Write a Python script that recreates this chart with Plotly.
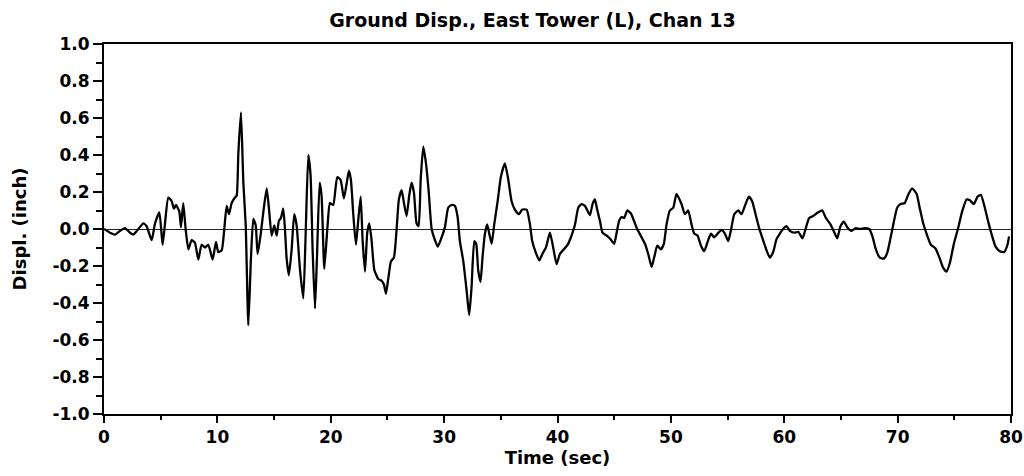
import plotly.graph_objects as go

# Time (sec)
t_sec = [0, 0.53, 0.97, 1.41, 1.85, 2.29, 2.59, 3.03, 3.47, 3.76, 4.2, 4.5, 4.88, 5.17, 5.38,
         5.67, 5.97, 6.17, 6.35, 6.64, 6.79, 6.99, 7.2, 7.44, 7.73, 8.02, 8.32, 8.61, 8.91, 9.2,
         9.58, 9.88, 10.08, 10.38, 10.61, 10.82, 11.02, 11.26, 11.55, 11.7, 11.85, 12.08, 12.29,
         12.5, 12.73, 12.96, 13.17, 13.38, 13.55, 13.84, 14.05, 14.35, 14.55, 14.79, 15.02, 15.23,
         15.43, 15.61, 15.81, 15.96, 16.11, 16.31, 16.55, 16.78, 16.99, 17.28, 17.58, 17.79, 18.02,
         18.22, 18.4, 18.61, 18.78, 19.02, 19.19, 19.43, 19.72, 19.93, 20.22, 20.57, 20.87, 21.16,
         21.4, 21.6, 21.78, 21.98, 22.22, 22.43, 22.64, 22.81, 23.02, 23.22, 23.4, 23.6, 23.84,
         24.19, 24.49, 24.69, 24.87, 25.07, 25.31, 25.57, 25.81, 26.01, 26.25, 26.46, 26.69, 26.93,
         27.13, 27.34, 27.57, 27.75, 27.93, 28.16, 28.4, 28.63, 28.9, 29.19, 29.43, 29.69, 30.07,
         30.36, 30.66, 30.95, 31.19, 31.39, 31.68, 31.98, 32.21, 32.42, 32.66, 32.83, 33.01, 33.21,
         33.39, 33.6, 33.8, 33.98, 34.19, 34.42, 34.72, 35.0, 35.36, 35.65, 35.95, 36.24, 36.6,
         36.89, 37.28, 37.57, 37.77, 38.07, 38.39, 38.66, 38.98, 39.33, 39.62, 39.92, 40.21, 40.56,
         40.94, 41.24, 41.53, 41.83, 42.12, 42.42, 42.86, 43.09, 43.3, 43.5, 43.74, 43.97, 44.32,
         44.68, 45.0, 45.2, 45.44, 45.65, 45.88, 46.15, 46.47, 46.74, 47.03, 47.33, 47.71, 48.0,
         48.3, 48.54, 48.8, 49.12, 49.38, 49.62, 49.91, 50.21, 50.5, 50.94, 51.23, 51.53, 51.82,
         52.06, 52.35, 52.65, 52.94, 53.24, 53.53, 53.82, 54.12, 54.47, 54.76, 55.06, 55.29, 55.59,
         55.94, 56.23, 56.53, 56.88, 57.17, 57.47, 57.76, 58.05, 58.35, 58.73, 59.02, 59.32, 59.61,
         59.9, 60.2, 60.49, 60.93, 61.23, 61.61, 61.9, 62.2, 62.55, 63.0, 63.35, 63.67, 64.02,
         64.32, 64.67, 64.96, 65.26, 65.55, 65.93, 66.31, 66.67, 67.11, 67.49, 67.78, 68.08, 68.43,
         68.78, 69.08, 69.37, 69.67, 69.96, 70.26, 70.63, 70.93, 71.28, 71.67, 71.96, 72.26, 72.55,
         72.93, 73.34, 73.72, 74.02, 74.31, 74.6, 74.98, 75.34, 75.69, 76.08, 76.37, 76.72, 77.05,
         77.34, 77.63, 77.99, 78.34, 78.64, 79.01, 79.39, 79.69, 79.83]

# Ground displacement (inch)
displ_in = [0.0, -0.02, -0.03, -0.01, 0.005, -0.02, -0.03, 0.0, 0.03, 0.015, -0.06, 0.03, 0.09,
            -0.085, 0.03, 0.17, 0.15, 0.11, 0.13, 0.095, 0.01, 0.14, 0.0, -0.11, -0.06, -0.075,
            -0.165, -0.085, -0.1, -0.085, -0.165, -0.07, -0.125, -0.115, 0.0, 0.125, 0.08, 0.14,
            0.17, 0.18, 0.41, 0.63, 0.25, 0.02, -0.52, -0.16, 0.055, 0.02, -0.135, -0.02, 0.09,
            0.22, 0.11, -0.035, 0.02, -0.035, 0.045, 0.06, 0.11, 0.0, -0.16, -0.25, -0.11, 0.08,
            0.02, -0.215, -0.375, -0.02, 0.40, 0.29, -0.11, -0.43, -0.16, 0.25, 0.18, -0.215, 0.02,
            0.14, 0.13, 0.28, 0.265, 0.165, 0.245, 0.315, 0.265, 0.085, -0.085, 0.05, 0.175, -0.06,
            -0.23, -0.02, 0.03, -0.06, -0.22, -0.27, -0.28, -0.3, -0.35, -0.27, -0.175, -0.155, 0.0,
            0.16, 0.21, 0.14, 0.07, 0.185, 0.25, 0.195, 0.03, 0.015, 0.265, 0.445, 0.355, 0.21, 0.0,
            -0.06, -0.095, -0.06, 0.01, 0.115, 0.13, 0.125, 0.065, -0.065, -0.17, -0.33, -0.465,
            -0.315, -0.065, -0.08, -0.225, -0.285, -0.15, -0.025, 0.025, -0.025, -0.08, 0.025, 0.15,
            0.28, 0.355, 0.27, 0.15, 0.105, 0.08, 0.105, 0.105, 0.025, -0.065, -0.125, -0.17,
            -0.135, -0.1, -0.02, -0.1, -0.19, -0.135, -0.11, -0.08, -0.035, 0.02, 0.115, 0.135,
            0.125, 0.075, 0.135, 0.16, 0.105, 0.045, -0.02, -0.035, -0.055, -0.08, -0.025, 0.045,
            0.065, 0.06, 0.1, 0.085, 0.045, 0.0, -0.035, -0.08, -0.135, -0.205, -0.15, -0.09, -0.11,
            -0.08, 0.025, 0.1, 0.115, 0.19, 0.135, 0.08, 0.1, 0.025, -0.025, -0.035, -0.09, -0.12,
            -0.07, -0.025, -0.045, -0.025, -0.005, -0.025, -0.065, -0.01, 0.08, 0.1, 0.08, 0.125,
            0.175, 0.15, 0.08, 0.01, -0.045, -0.1, -0.155, -0.125, -0.055, -0.025, 0.0, 0.015,
            -0.01, -0.02, -0.015, -0.05, 0.005, 0.06, 0.07, 0.09, 0.1, 0.06, 0.03, -0.005, -0.05,
            0.015, 0.04, 0.01, -0.01, 0.005, 0.0, 0.005, 0.0, -0.04, -0.11, -0.155, -0.16, -0.13,
            -0.05, 0.04, 0.115, 0.135, 0.14, 0.185, 0.22, 0.19, 0.11, 0.03, -0.025, -0.085, -0.105,
            -0.16, -0.21, -0.23, -0.185, -0.075, 0.005, 0.095, 0.16, 0.155, 0.135, 0.175, 0.185,
            0.13, 0.04, -0.04, -0.095, -0.12, -0.125, -0.085, -0.04]

y_tick_vals = [-1.0, -0.8, -0.6, -0.4, -0.2, 0.0, 0.2, 0.4, 0.6, 0.8, 1.0]
y_tick_labels = ["-1.0", "-0.8", "-0.6", "-0.4", "-0.2", "0.0", "0.2", "0.4", "0.6", "0.8", "1.0"]
x_tick_vals = [0, 10, 20, 30, 40, 50, 60, 70, 80]

title_text = "Ground Disp., East Tower (L), Chan 13"
x_title = "Time (sec)"
y_title = "Displ. (inch)"

FONT = "DejaVu Sans, Liberation Sans, Arial, sans-serif"

fig = go.Figure()
fig.add_trace(go.Scatter(x=t_sec, y=displ_in, mode="lines",
                         line=dict(color="black", width=2.3, shape="spline", smoothing=0.5),
                         showlegend=False))

fig.update_layout(
    width=1024, height=476,
    margin=dict(l=104, r=13, t=44, b=62),
    paper_bgcolor="white", plot_bgcolor="white",
    font=dict(family=FONT, color="black", size=17, weight="bold"),
    title=dict(text=title_text, x=0.52, xanchor="center", y=0.958, yanchor="middle",
               font=dict(family=FONT, size=19, weight="bold", color="black")),
)

fig.update_xaxes(
    range=[0, 80], tickvals=x_tick_vals, ticks="outside", ticklen=7, tickwidth=1.5,
    tickcolor="black", showline=True, linecolor="black", linewidth=2, mirror=True,
    showgrid=False, zeroline=False, automargin=False,
    minor=dict(dtick=5, tick0=0, ticks="outside", ticklen=4, tickwidth=1.5, tickcolor="black"),
    tickfont=dict(family=FONT, size=17, weight="bold"),
    title=dict(text=x_title, standoff=5, font=dict(family=FONT, size=18, weight="bold")),
)
fig.update_yaxes(
    range=[-1.0, 1.0], tickvals=y_tick_vals, ticktext=y_tick_labels, ticks="outside",
    ticklen=9, tickwidth=1.5, tickcolor="black", showline=True, linecolor="black", linewidth=2,
    mirror=True, showgrid=False, zeroline=True, zerolinecolor="#222", zerolinewidth=1.3,
    automargin=False,
    minor=dict(dtick=0.1, tick0=0, ticks="outside", ticklen=6, tickwidth=1.5, tickcolor="black"),
    tickfont=dict(family=FONT, size=17, weight="bold"),
    title=dict(text=y_title, standoff=21, font=dict(family=FONT, size=18, weight="bold")),
)

fig.write_html("out.html", config={"displayModeBar": False},
               post_script="document.body.style.margin='0';")
